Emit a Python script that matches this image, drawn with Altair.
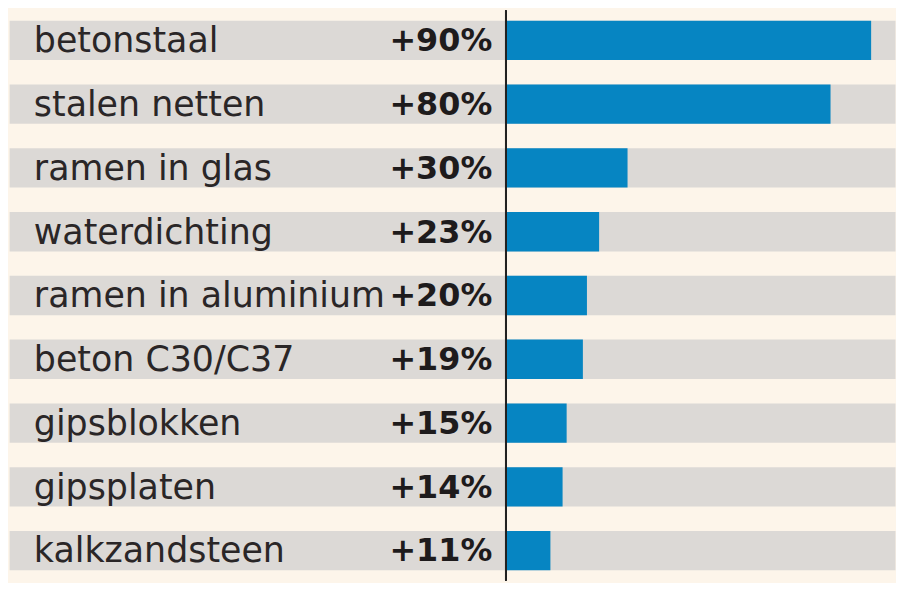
import altair as alt
import pandas as pd

materials = ["betonstaal", "stalen netten", "ramen in glas", "waterdichting",
             "ramen in aluminium", "beton C30/C37", "gipsblokken", "gipsplaten",
             "kalkzandsteen"]
increase = [90, 80, 30, 23, 20, 19, 15, 14, 11]

df = pd.DataFrame({"materiaal": materials, "stijging": increase})
df["label"] = ["+%d%%" % v for v in increase]
df["lo"] = -122.2
df["hi"] = 96

W, H = 888, 573
xscale = alt.Scale(domain=[-122.6, 94.9], nice=False, zero=False)
yscale = alt.Scale(domain=materials, paddingInner=0.384, paddingOuter=0.16)

base = alt.Chart(df)
y = alt.Y("materiaal:N", scale=yscale, axis=None, sort=materials)

band = base.mark_bar(color="#dcd9d6").encode(
    x=alt.X("lo:Q", scale=xscale, axis=None), x2="hi:Q", y=y)
bars = base.mark_bar(color="#0685c2").encode(
    x=alt.X("stijging:Q", scale=xscale, axis=None), x2=alt.datum(0), y=y)
rule = base.mark_rule(color="#222222", strokeWidth=1.5).encode(
    x=alt.datum(0), y=alt.value(0), y2=alt.value(H))
names = base.mark_text(align="left", baseline="middle", fontSize=35,
                       font="DejaVu Sans", color="#2a2627", dy=1).encode(
    x=alt.value(26), y=y, text="materiaal:N")
vals = base.mark_text(align="right", baseline="middle", fontSize=32,
                      font="DejaVu Sans", fontWeight="bold", color="#1e1b1c", dy=1).encode(
    x=alt.value(487), y=y, text="label:N")

chart = alt.layer(band, bars, rule, names, vals).properties(
    width=W, height=H, padding=0, background="#fdf5ea"
).configure_view(stroke=None)

chart.save("out.html", embed_options={"renderer": "svg", "actions": False})
